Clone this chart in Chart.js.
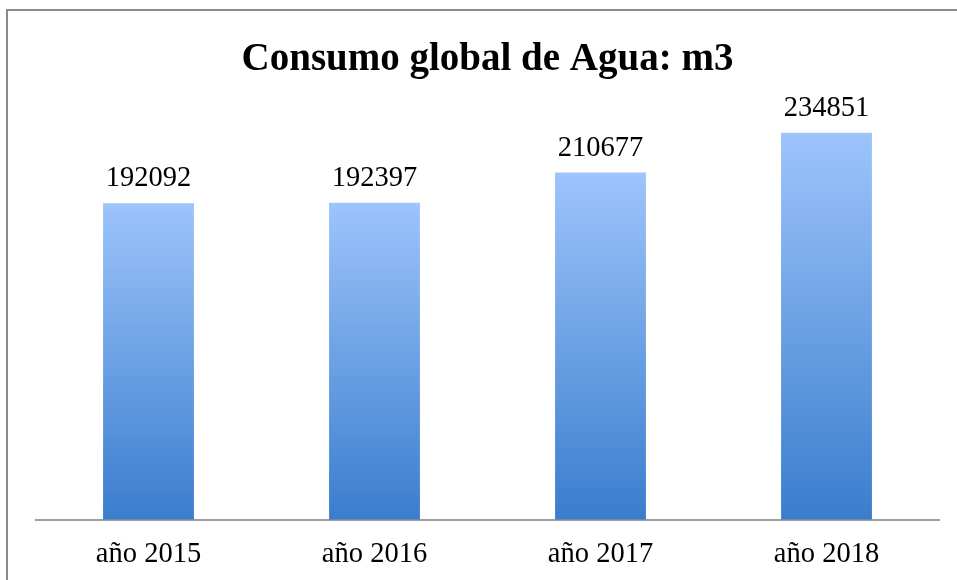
<!DOCTYPE html>
<html>
<head>
<meta charset="utf-8">
<script src="https://cdn.jsdelivr.net/npm/chart.js@4/dist/chart.umd.min.js"></script>
<style>
  html, body { margin: 0; padding: 0; background: #ffffff; }
  #frame { position: absolute; left: 6px; top: 9px; width: 1000px; height: 1000px; border: 2px solid #8c8c8c; background: #ffffff; }
  #wrap { position: absolute; left: 0; top: 0; width: 957px; height: 580px; }
</style>
</head>
<body>
<div id="frame"></div>
<div id="wrap"><canvas id="c" width="957" height="580"></canvas></div>
<script>
const categories = ["año 2015", "año 2016", "año 2017", "año 2018"];
const consumo = [192092, 192397, 210677, 234851];
const titleText = "Consumo global de Agua: m3";

const topColor = "#9dc4fb";
const bottomColor = "#3a7dcd";

function barGradient(ctx) {
  const chart = ctx.chart;
  const y = chart.scales && chart.scales.y;
  if (!y || ctx.raw === undefined) return topColor;
  const top = y.getPixelForValue(ctx.raw);
  const base = y.getPixelForValue(0);
  if (!isFinite(top) || !isFinite(base) || top === base) return topColor;
  const g = chart.ctx.createLinearGradient(0, top, 0, base);
  g.addColorStop(0, topColor);
  g.addColorStop(1, bottomColor);
  return g;
}

const valueLabels = {
  id: 'valueLabels',
  afterDatasetsDraw(chart) {
    const c = chart.ctx;
    const meta = chart.getDatasetMeta(0);
    c.save();
    c.font = '28.5px "Liberation Serif", serif';
    c.fillStyle = '#000000';
    c.textAlign = 'center';
    c.textBaseline = 'alphabetic';
    meta.data.forEach((el, i) => {
      c.fillText(String(chart.data.datasets[0].data[i]), el.x, el.y - 17);
    });
    c.restore();
  }
};

new Chart(document.getElementById('c'), {
  type: 'bar',
  data: {
    labels: categories,
    datasets: [{
      data: consumo,
      backgroundColor: barGradient,
      borderWidth: 0,
      categoryPercentage: 1.0,
      barPercentage: 0.402
    }]
  },
  options: {
    responsive: false,
    animation: false,
    layout: { padding: { left: 35.5, right: 17.5, top: 20, bottom: -10 } },
    plugins: {
      legend: { display: false },
      tooltip: { enabled: false },
      title: {
        display: true,
        text: titleText,
        color: '#000000',
        font: { family: '"Liberation Serif", serif', size: 39, weight: 'bold' },
        padding: { top: 17, bottom: 24 }
      }
    },
    scales: {
      x: {
        grid: { display: false, drawTicks: false },
        border: { display: true, color: '#9e9e9e', width: 2 },
        ticks: {
          color: '#000000',
          padding: 28,
          font: { family: '"Liberation Serif", serif', size: 28.5, lineHeight: 0.5 }
        }
      },
      y: {
        display: false,
        min: 0,
        max: 250000
      }
    }
  },
  plugins: [valueLabels]
});
</script>
</body>
</html>
